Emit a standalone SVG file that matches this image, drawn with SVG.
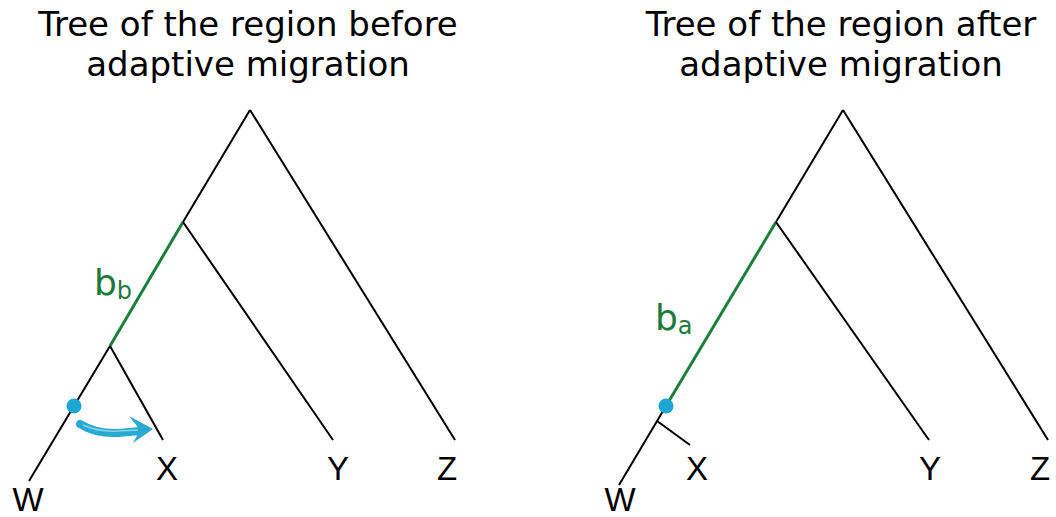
<svg xmlns="http://www.w3.org/2000/svg" width="1056" height="517" viewBox="0 0 1056 517">
<style>
.title{font-family:"DejaVu Sans",sans-serif;font-size:34px;fill:#000;text-anchor:middle}
.leaf{font-family:"Liberation Sans",Arial,sans-serif;font-size:33px;fill:#000;text-anchor:middle}
.br{fill:#1a7a3c;font-family:"DejaVu Sans",sans-serif}
.edge{stroke:#000;stroke-width:2;fill:none;stroke-linecap:butt}
.green{stroke:#1a7f3c;stroke-width:3;fill:none}
.dot{fill:#1ba6d3}
</style>
<rect width="1056" height="517" fill="#fff"/>
<g id="title-before"><text class="title" x="248" y="36">Tree of the region before</text><text class="title" x="248" y="76">adaptive migration</text></g>
<g id="title-after"><text class="title" x="841" y="36">Tree of the region after</text><text class="title" x="841" y="76">adaptive migration</text></g>
<g id="connectors">
<line class="edge" x1="250" y1="110" x2="455" y2="440"/>
<line class="edge" x1="250" y1="110" x2="183" y2="222"/>
<line class="green" x1="183" y1="222" x2="110" y2="346"/>
<line class="edge" x1="110" y1="346" x2="29" y2="481"/>
<line class="edge" x1="183" y1="222" x2="333" y2="440"/>
<line class="edge" x1="110" y1="346" x2="163" y2="440"/>
<line class="edge" x1="843" y1="110" x2="1048" y2="440"/>
<line class="edge" x1="843" y1="110" x2="776" y2="222"/>
<line class="green" x1="776" y1="222" x2="666" y2="406"/>
<line class="edge" x1="666" y1="406" x2="619" y2="485"/>
<line class="edge" x1="776" y1="222" x2="929" y2="440"/>
<line class="edge" x1="657" y1="421" x2="690" y2="445"/>
</g>
<g id="arrow">
<path d="M80 424 Q96 434 118 433 L140 431" stroke="#27a9d2" stroke-width="8" fill="none" stroke-linecap="round"/>
<path d="M83 425 Q98 432 118 431 L138 430" stroke="#8ad4ea" stroke-width="1.5" fill="none"/>
<path d="M129 416 L153 429 L133 443 L140 430 Z" fill="#27a9d2"/>
</g>
<g id="dot-before"><circle class="dot" cx="74" cy="406" r="7.5"/></g>
<g id="dot-after"><circle class="dot" cx="666" cy="406" r="7.5"/></g>
<g id="label-bb"><text class="br" x="94" y="295" font-size="36">b<tspan font-size="24" dy="4">b</tspan></text></g>
<g id="label-ba"><text class="br" x="655" y="330" font-size="36">b<tspan font-size="24" dy="4">a</tspan></text></g>
<g id="leaf-W"><text class="leaf" x="28" y="511">W</text></g>
<g id="leaf-X"><text class="leaf" x="167" y="480">X</text></g>
<g id="leaf-Y"><text class="leaf" x="338" y="480">Y</text></g>
<g id="leaf-Z"><text class="leaf" x="447" y="480">Z</text></g>
<g id="leaf-W2"><text class="leaf" x="620" y="511">W</text></g>
<g id="leaf-X2"><text class="leaf" x="697" y="480">X</text></g>
<g id="leaf-Y2"><text class="leaf" x="930" y="480">Y</text></g>
<g id="leaf-Z2"><text class="leaf" x="1040" y="480">Z</text></g>
</svg>
